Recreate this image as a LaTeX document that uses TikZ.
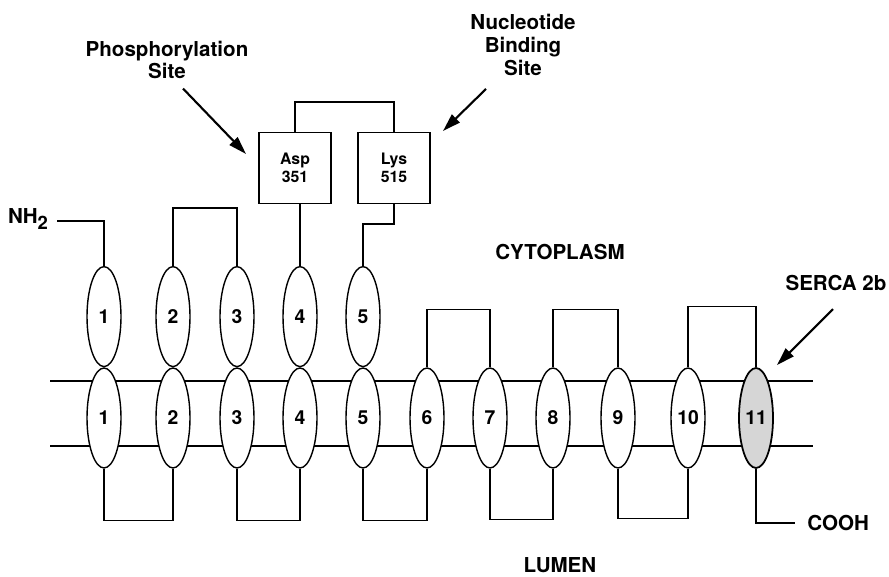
\documentclass[tikz,border=0pt]{standalone}
\usepackage{fontspec}
\setmainfont{TeX Gyre Heros}
\usetikzlibrary{arrows.meta,positioning,shapes.geometric}

\begin{document}
\begin{tikzpicture}[x=0.02cm, y=-0.02cm,
			every node/.style={font=\bfseries\fontsize{11.7}{13}\selectfont},
			helix/.style={draw, ellipse, fill=white, line width=0.8pt, inner sep=0pt, minimum width=6.8mm, minimum height=20mm, font=\bfseries\fontsize{11}{13}\selectfont},
			site/.style={draw, fill=white, line width=0.8pt, align=center, inner sep=0pt, minimum width=14.4mm, minimum height=14.2mm, font=\bfseries\fontsize{9}{10}\selectfont},
			lbl/.style={align=center, inner sep=0pt},
			ln/.style={line width=0.8pt},
			ar/.style={-{Triangle[length=3.6mm, width=2.2mm]}, line width=1.2pt}]
			\useasboundingbox (0,0) rectangle (889,577);
			\draw[ln] (50,381) -- (813,381);
			\draw[ln] (50,446) -- (813,446);
			\node[helix] (m1) at (104,418) {1};
			\node[helix] (m2) at (173,418) {2};
			\node[helix] (m3) at (237,418) {3};
			\node[helix] (m4) at (300,418) {4};
			\node[helix] (m5) at (363,418) {5};
			\node[helix] (m6) at (427,418) {6};
			\node[helix] (m7) at (490,418) {7};
			\node[helix] (m8) at (553,418) {8};
			\node[helix] (m9) at (618,418) {9};
			\node[helix] (m10) at (688,418) {10};
			\node[helix, fill=black!16, line width=1pt] (m11) at (756,418) {11};
			\node[helix, above=0pt of m1] (c1) {1};
			\node[helix, above=0pt of m2] (c2) {2};
			\node[helix, above=0pt of m3] (c3) {3};
			\node[helix, above=0pt of m4] (c4) {4};
			\node[helix, above=0pt of m5] (c5) {5};
			\node[site] (asp) at (295,168) {Asp\\351};
			\node[site] (lys) at (394,168) {Lys\\515};
			\node[lbl] (nh) at (28,219) {NH\raisebox{-0.6ex}{\fontsize{10.5}{12}\selectfont 2}};
			\coordinate (nt) at (57,221);
			\node[lbl] (phos) at (167,60) {Phosphorylation\\Site};
			\node[lbl] (nuc) at (523,45) {Nucleotide\\Binding\\Site};
			\node[lbl] (cyto) at (560,252) {CYTOPLASM};
			\node[lbl] (serca) at (836,283) {SERCA 2b};
			\node[lbl, anchor=west] (cooh) at (807,523) {COOH};
			\node[lbl] (lumen) at (560,565) {LUMEN};
			\coordinate (phtip) at (246,154);
			\coordinate (nuctip) at (443,131);
			\coordinate (sertip) at (777,365);
			\draw[ln] (nt) -| (c1.north);
			\draw[ln] (c2.north) -- ++(0,-58) -| (c3.north);
			\draw[ln] (c4.north) -- (c4.north |- asp.south);
			\draw[ln] (asp.north) -- ++(0,-30) -| (lys.north);
			\draw[ln] (lys.south) -- ++(0,20) -| (c5.north);
			\draw[ln] (m6.north) -- ++(0,-58) -| (m7.north);
			\draw[ln] (m8.north) -- ++(0,-58) -| (m9.north);
			\draw[ln] (m10.north) -- ++(0,-61) -| (m11.north);
			\draw[ln] (m1.south) -- ++(0,52) -| (m2.south);
			\draw[ln] (m3.south) -- ++(0,52) -| (m4.south);
			\draw[ln] (m5.south) -- ++(0,52) -| (m6.south);
			\draw[ln] (m7.south) -- ++(0,51) -| (m8.south);
			\draw[ln] (m9.south) -- ++(0,50) -| (m10.south);
			\draw[ln] (m11.south) |- ([xshift=-2.4mm]cooh.west);
			\draw[ar] ([shift={(16,9)}]phos.south) -- (phtip);
			\draw[ar] ([shift={(-37,13)}]nuc.south) -- (nuctip);
			\draw[ar] ([shift={(-3,18)}]serca.south) -- (sertip);
		\end{tikzpicture}
\end{document}
